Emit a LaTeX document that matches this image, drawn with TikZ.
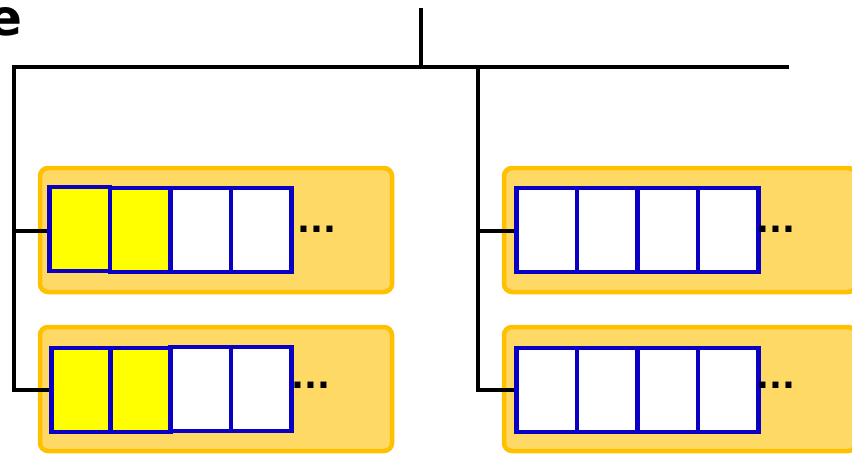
\documentclass[tikz,border=0pt]{standalone}
\usepackage{fontspec}
\newfontfamily\dotsfont{DejaVu Sans}
\begin{document}
\begin{tikzpicture}[x=1pt,y=-1pt,
  wire/.style={draw=black,line width=3.5pt},
  holder/.style={draw=boxorange,fill=boxfill,line width=4.5pt,rounded corners=8pt,
    minimum width=352pt,minimum height=124pt,inner sep=0pt},
  cellw/.style={draw=cellblue,fill=white,line width=4.5pt,minimum width=60.5pt,
    minimum height=84pt,inner sep=0pt,anchor=west},
  celly/.style={cellw,fill=cellyellow},
  dotlbl/.style={font=\dotsfont\bfseries\fontsize{34}{34}\selectfont,inner sep=0pt}
]
\definecolor{boxorange}{HTML}{FFC000}
\definecolor{boxfill}{HTML}{FFD966}
\definecolor{cellblue}{HTML}{0A00C4}
\definecolor{cellyellow}{HTML}{FFFF00}
\useasboundingbox (0,0) rectangle (852,456);

% partial title letter
\node[font=\dotsfont\bfseries\fontsize{50}{50}\selectfont,anchor=base east,inner sep=0pt] (ttl) at (23,35) {e};

% tree
\coordinate (root) at (421,8);
\coordinate (jn) at (421,67);
\coordinate (hl) at (12,67);
\coordinate (hr) at (789,67);
\coordinate (lt) at (14,67);
\coordinate (lb) at (14,392);
\coordinate (rt) at (478,67);
\coordinate (rb) at (478,391);
\draw[wire] (root) -- (jn);
\draw[wire] (hl) -- (hr);
\draw[wire] (lt) -- (lb);
\draw[wire] (rt) -- (rb);

% holders
\node[holder] (h1) at (216,230) {};
\node[holder] (h2) at (216,389) {};
\node[holder] (h3) at (680,230) {};
\node[holder] (h4) at (680,389) {};

% top-left cells
\node[celly] (a1) at (47,229) {};
\node[celly] (a2) at (107.5,230) {};
\node[cellw] (a3) at (168,230) {};
\node[cellw] (a4) at (228.5,230) {};
\node[dotlbl] (ad) at (317,229) {...};

% bottom-left cells
\node[celly] (b1) at (49,390) {};
\node[celly] (b2) at (108,390) {};
\node[cellw] (b3) at (168,389) {};
\node[cellw] (b4) at (228.5,389) {};
\node[dotlbl] (bd) at (311,385) {...};

% top-right cells
\node[cellw] (c1) at (514,230) {};
\node[cellw] (c2) at (574.5,230) {};
\node[cellw] (c3) at (635,230) {};
\node[cellw] (c4) at (695.5,230) {};
\node[dotlbl] (cd) at (776,229) {...};

% bottom-right cells
\node[cellw] (d1) at (514,390) {};
\node[cellw] (d2) at (574.5,390) {};
\node[cellw] (d3) at (635,390) {};
\node[cellw] (d4) at (695.5,390) {};
\node[dotlbl] (dd) at (776,385) {...};

% branches
\draw[wire] (12.25,231) -- (a1.west |- 0,231);
\draw[wire] (12.25,390) -- (b1.west);
\draw[wire] (476.25,231) -- (c1.west |- 0,231);
\draw[wire] (476.25,390) -- (d1.west);
\end{tikzpicture}
\end{document}
